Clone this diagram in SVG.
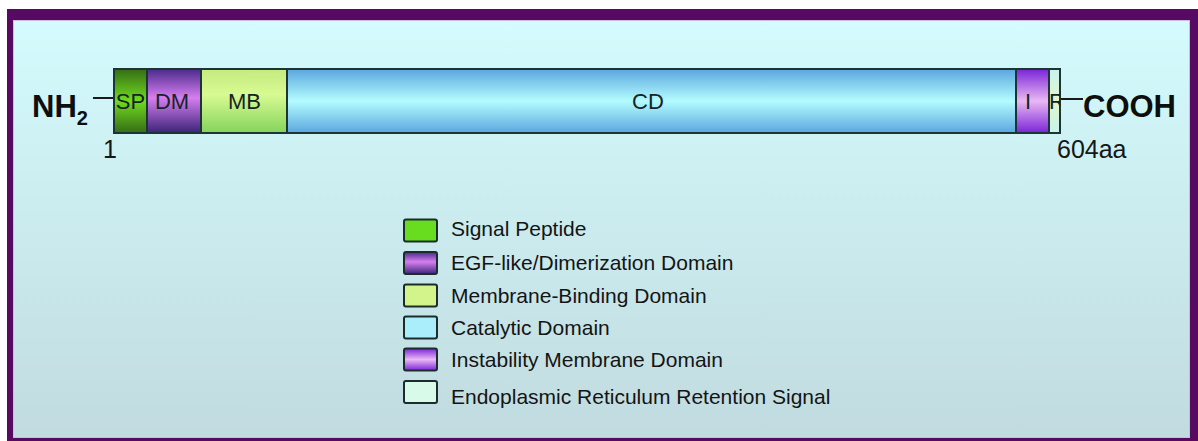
<svg xmlns="http://www.w3.org/2000/svg" width="1198" height="441" viewBox="0 0 1198 441">
<defs>
  <linearGradient id="bg" x1="0" y1="0" x2="0" y2="1">
    <stop offset="0" stop-color="#d4fbfd"/>
    <stop offset="1" stop-color="#c1dbdf"/>
  </linearGradient>
  <linearGradient id="gSP" x1="0" y1="0" x2="0" y2="1">
    <stop offset="0" stop-color="#356c16"/>
    <stop offset="0.5" stop-color="#70dc1e"/>
    <stop offset="1" stop-color="#356c16"/>
  </linearGradient>
  <linearGradient id="gDM" x1="0" y1="0" x2="0" y2="1">
    <stop offset="0" stop-color="#4a2a8c"/>
    <stop offset="0.45" stop-color="#d67ef0"/>
    <stop offset="1" stop-color="#3a2478"/>
  </linearGradient>
  <linearGradient id="gMB" x1="0" y1="0" x2="0" y2="1">
    <stop offset="0" stop-color="#c4ea80"/>
    <stop offset="0.4" stop-color="#d8fa92"/>
    <stop offset="1" stop-color="#84d45c"/>
  </linearGradient>
  <linearGradient id="gCD" x1="0" y1="0" x2="0" y2="1">
    <stop offset="0" stop-color="#5aa6de"/>
    <stop offset="0.5" stop-color="#b4fcff"/>
    <stop offset="1" stop-color="#5aa6de"/>
  </linearGradient>
  <linearGradient id="gI" x1="0" y1="0" x2="0" y2="1">
    <stop offset="0" stop-color="#7a24d8"/>
    <stop offset="0.5" stop-color="#eab8f4"/>
    <stop offset="1" stop-color="#7a24d8"/>
  </linearGradient>
  <linearGradient id="gR" x1="0" y1="0" x2="0" y2="1">
    <stop offset="0" stop-color="#c6f2f0"/>
    <stop offset="0.5" stop-color="#e2f8c8"/>
    <stop offset="1" stop-color="#c6f2f0"/>
  </linearGradient>
  <clipPath id="clipR"><rect x="1049" y="69" width="11" height="64"/></clipPath>
  <style>
    .dom { stroke: #1c3434; stroke-width: 2; }
    .sw { stroke: #1c2c2c; stroke-width: 2; }
    .lbl { font-family: "Liberation Sans", Arial, sans-serif; font-size: 22px; fill: #152424; text-anchor: middle; }
    .leg { font-family: "Liberation Sans", Arial, sans-serif; font-size: 21px; fill: #141414; }
    .term { font-family: "Liberation Sans", Arial, sans-serif; font-weight: bold; font-size: 31px; fill: #0e0e0e; }
    .num { font-family: "Liberation Sans", Arial, sans-serif; font-size: 25px; fill: #161616; }
    .conn { stroke: #1a1a1a; stroke-width: 2; fill: none; }
  </style>
</defs>

<rect x="0" y="0" width="1198" height="441" fill="#ffffff"/>
<rect x="7" y="9" width="1191" height="432" fill="#560a62"/>
<rect x="13.5" y="20.5" width="1176" height="417" fill="url(#bg)" stroke="#cbbce0" stroke-width="1"/>

<g id="connectors">
  <line class="conn" x1="93" y1="98" x2="114" y2="98"/>
  <line class="conn" x1="1053" y1="99" x2="1083" y2="99"/>
</g>

<g id="node-SP">
  <rect class="dom" x="114" y="69" width="33" height="64" fill="url(#gSP)"/>
  <text class="lbl" x="130.5" y="109">SP</text>
</g>
<g id="node-DM">
  <rect class="dom" x="147" y="69" width="54" height="64" fill="url(#gDM)"/>
  <text class="lbl" x="172" y="109">DM</text>
</g>
<g id="node-MB">
  <rect class="dom" x="201" y="69" width="86" height="64" fill="url(#gMB)"/>
  <text class="lbl" x="244.5" y="109">MB</text>
</g>
<g id="node-CD">
  <rect class="dom" x="287" y="69" width="729" height="64" fill="url(#gCD)"/>
  <text class="lbl" x="648" y="109">CD</text>
</g>
<g id="node-I">
  <rect class="dom" x="1016" y="69" width="33" height="64" fill="url(#gI)"/>
  <text class="lbl" x="1028" y="109">I</text>
</g>
<g id="node-R">
  <rect class="dom" x="1049" y="69" width="11" height="64" fill="url(#gR)"/>
  <text class="lbl" x="1057" y="109" clip-path="url(#clipR)">R</text>
</g>

<g id="node-NH2">
  <text class="term" x="32" y="117">NH<tspan font-size="20" dy="8">2</tspan></text>
</g>
<g id="node-COOH">
  <text class="term" x="1083" y="117">COOH</text>
</g>
<g id="label-1">
  <text class="num" x="103" y="158">1</text>
</g>
<g id="label-604aa">
  <text class="num" x="1057" y="158">604aa</text>
</g>

<g id="legend">
  <g id="legend-sp">
    <rect class="sw" x="404" y="219.5" width="33" height="22" rx="2" fill="#68dc1e"/>
    <text class="leg" x="451" y="236">Signal Peptide</text>
  </g>
  <g id="legend-dm">
    <rect class="sw" x="404" y="252" width="33" height="22" rx="2" fill="url(#gDM)"/>
    <text class="leg" x="451" y="270">EGF-like/Dimerization Domain</text>
  </g>
  <g id="legend-mb">
    <rect class="sw" x="404" y="284.5" width="33" height="22" rx="2" fill="#d2f48a"/>
    <text class="leg" x="451" y="303">Membrane-Binding Domain</text>
  </g>
  <g id="legend-cd">
    <rect class="sw" x="404" y="316.5" width="33" height="22" rx="2" fill="#aaeefc"/>
    <text class="leg" x="451" y="335">Catalytic Domain</text>
  </g>
  <g id="legend-i">
    <rect class="sw" x="404" y="348.5" width="33" height="22" rx="2" fill="url(#gI)"/>
    <text class="leg" x="451" y="367">Instability Membrane Domain</text>
  </g>
  <g id="legend-r">
    <rect class="sw" x="404" y="381" width="33" height="22" rx="2" fill="#d8fae8"/>
    <text class="leg" x="451" y="404">Endoplasmic Reticulum Retention Signal</text>
  </g>
</g>
</svg>
